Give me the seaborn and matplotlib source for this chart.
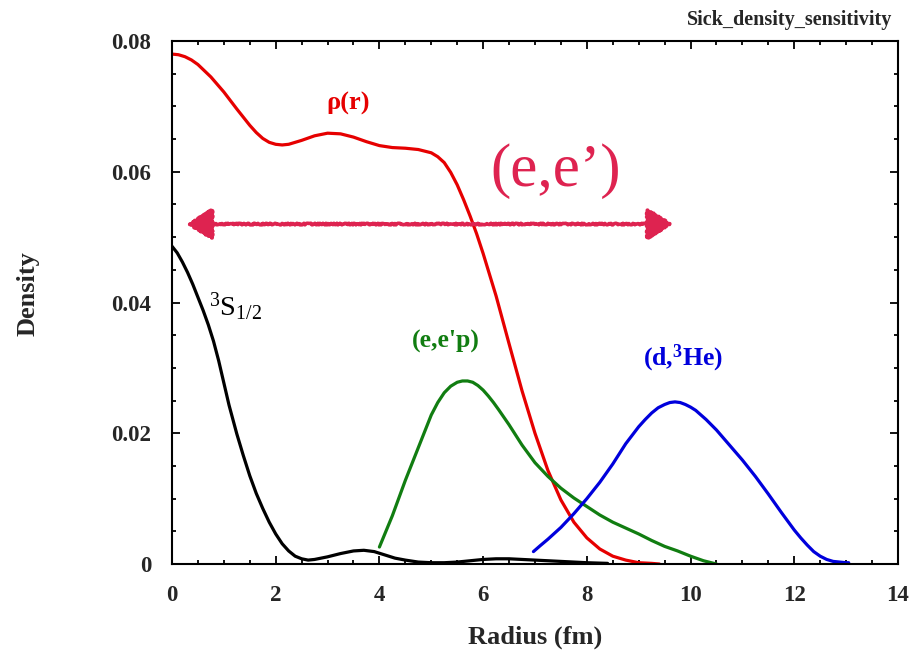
import matplotlib
matplotlib.use("Agg")
import matplotlib.pyplot as plt
import seaborn as sns
import pandas as pd

# Charge density rho(r) from elastic (e,e') scattering
r_rho = [0, 0.125, 0.25, 0.375, 0.5, 0.75, 1.0, 1.25, 1.5, 1.625, 1.75,
         1.875, 2.0, 2.125, 2.25, 2.5, 2.75, 3.0, 3.25, 3.5, 3.75, 4.0, 4.25,
         4.5, 4.75, 5.0, 5.125, 5.25, 5.375, 5.5, 5.625, 5.75, 5.875, 6.0,
         6.25, 6.5, 6.75, 7.0, 7.25, 7.5, 7.75, 8.0, 8.25, 8.5, 8.75, 9.0,
         9.25, 9.4]
rho = [0.0780, 0.0779, 0.0776, 0.0771, 0.0764, 0.0745, 0.0722, 0.0696,
       0.0671, 0.0660, 0.0651, 0.0645, 0.0642, 0.0641, 0.0642, 0.0648,
       0.0655, 0.0659, 0.0658, 0.0653, 0.0646, 0.0640, 0.0637, 0.0636,
       0.0634, 0.0629, 0.0623, 0.0614, 0.0599, 0.0580, 0.0557, 0.0532,
       0.0505, 0.0475, 0.0410, 0.0337, 0.0265, 0.0200, 0.0143, 0.0098,
       0.0064, 0.0040, 0.0023, 0.0012, 0.0006, 0.0002, 0.0001, 0.0000]

# 3s1/2 proton orbital density
r_s12 = [0, 0.1, 0.2, 0.3, 0.4, 0.5, 0.6, 0.7, 0.8, 0.9, 1.0, 1.1, 1.25,
         1.375, 1.5, 1.625, 1.75, 1.875, 2.0, 2.125, 2.25, 2.375, 2.5,
         2.625, 2.75, 3.0, 3.25, 3.5, 3.7, 3.9, 4.1, 4.3, 4.5, 4.75, 5.0,
         5.25, 5.5, 5.75, 6.0, 6.25, 6.5, 6.75, 7.0, 7.5, 8.0, 8.4]
s12 = [0.0486, 0.0476, 0.0462, 0.0446, 0.0428, 0.0408, 0.0388, 0.0366,
       0.0341, 0.0311, 0.0277, 0.0243, 0.0199, 0.0166, 0.0135, 0.0108,
       0.0085, 0.0064, 0.0046, 0.0031, 0.0020, 0.0012, 0.0008, 0.0006,
       0.0007, 0.0011, 0.0016, 0.0020, 0.0021, 0.0019, 0.0014, 0.0009,
       0.0006, 0.0003, 0.0002, 0.0002, 0.0003, 0.0005, 0.0007, 0.0008,
       0.0008, 0.0007, 0.0006, 0.0004, 0.0002, 0.0001]

# Radial sensitivity of (e,e'p)
r_eep = [4.0, 4.25, 4.5, 4.75, 5.0, 5.125, 5.25, 5.375, 5.5, 5.6, 5.7, 5.8,
         5.9, 6.0, 6.1, 6.2, 6.3, 6.5, 6.75, 7.0, 7.25, 7.5, 7.75, 8.0,
         8.25, 8.5, 8.75, 9.0, 9.25, 9.5, 9.75, 10.0, 10.25, 10.5]
eep = [0.0026, 0.0074, 0.0128, 0.0178, 0.0228, 0.0247, 0.0262, 0.0272,
       0.0278, 0.0280, 0.0280, 0.0278, 0.0273, 0.0266, 0.0257, 0.0247,
       0.0236, 0.0213, 0.0182, 0.0155, 0.0134, 0.0116, 0.0101, 0.0088,
       0.0075, 0.0064, 0.0055, 0.0046, 0.0036, 0.0027, 0.0020, 0.0012,
       0.0005, 0.0000]

# Radial sensitivity of (d,3He)
r_d3he = [6.97, 7.1, 7.25, 7.5, 7.75, 8.0, 8.25, 8.5, 8.75, 9.0, 9.125, 9.25,
          9.375, 9.5, 9.6, 9.7, 9.8, 9.9, 10.0, 10.1, 10.3, 10.5, 10.75,
          11.0, 11.25, 11.5, 11.75, 12.0, 12.125, 12.25, 12.375, 12.5,
          12.625, 12.75, 12.875, 13.0, 13.05]
d3he = [0.0019, 0.0028, 0.0038, 0.0056, 0.0077, 0.0100, 0.0125, 0.0153,
        0.0184, 0.0210, 0.0221, 0.0231, 0.0239, 0.0244, 0.0247, 0.0248,
        0.0247, 0.0244, 0.0240, 0.0235, 0.0221, 0.0205, 0.0182, 0.0159,
        0.0134, 0.0107, 0.0079, 0.0052, 0.0040, 0.0029, 0.0019, 0.0012,
        0.0007, 0.0004, 0.0003, 0.0002, 0.0002]

x_ticks = [0, 2, 4, 6, 8, 10, 12, 14]
x_tick_labels = ["0", "2", "4", "6", "8", "10", "12", "14"]
y_ticks = [0, 0.02, 0.04, 0.06, 0.08]
y_tick_labels = ["0", "0.02", "0.04", "0.06", "0.08"]

# extent of the (e,e') range arrow
arrow_span = [0.28, 9.66]
arrow_level = 0.052

RED = "#e60000"
GREEN = "#117d11"
BLUE = "#0000dc"
CRIMSON = "#de2350"

sns.set_theme(style="ticks")
plt.rcParams["font.family"] = ["Liberation Serif", "DejaVu Serif"]
plt.rcParams["mathtext.fontset"] = "custom"
plt.rcParams["mathtext.rm"] = "Liberation Serif"
plt.rcParams["mathtext.bf"] = "Liberation Serif:bold"
plt.rcParams["mathtext.it"] = "Liberation Serif:italic"

fig = plt.figure(figsize=(9.11, 6.55), dpi=100)
ax = fig.add_axes([0.1888, 0.1389, 0.7969, 0.7985])

curves = [
    (r_rho, rho, RED),
    (r_s12, s12, "black"),
    (r_eep, eep, GREEN),
    (r_d3he, d3he, BLUE),
]
for rr, dd, col in curves:
    df = pd.DataFrame({"r": rr, "density": dd})
    sns.lineplot(data=df, x="r", y="density", ax=ax, color=col, lw=2.3,
                 sort=False, estimator=None, solid_joinstyle="round",
                 solid_capstyle="round")

ax.set_xlim(0, 14)
ax.set_ylim(0, 0.08)
ax.set_xticks(x_ticks)
ax.set_xticklabels(x_tick_labels)
ax.set_yticks(y_ticks)
ax.set_yticklabels(y_tick_labels)
ax.set_xticks([v / 2 for v in range(29)], minor=True)
ax.set_yticks([v * 0.005 for v in range(17)], minor=True)

for lab in ax.get_xticklabels() + ax.get_yticklabels():
    lab.set_fontweight("bold")
    lab.set_fontsize(16.5)
ax.tick_params(which="both", direction="in", top=True, right=True,
               color="black", width=1.3)
ax.tick_params(which="major", length=5.5)
ax.tick_params(which="minor", length=3)
ax.tick_params(axis="x", which="major", pad=15)
ax.tick_params(axis="y", which="major", pad=15)
for sp in ax.spines.values():
    sp.set_visible(True)
    sp.set_linewidth(1.5)
    sp.set_color("black")

ax.set_xlabel("Radius (fm)", fontsize=19, fontweight="bold", va="center")
ax.xaxis.set_label_coords(0.5, -0.1396)
ax.set_ylabel("Density", fontsize=19, fontweight="bold", va="center")
ax.yaxis.set_label_coords(-0.198, 0.518)

# curve labels
ax.text(3.39, 0.0705, "ρ(r)", color=RED, fontsize=19, fontweight="bold",
        ha="center", va="center")
ax.text(1.23, 0.0393, r"$\mathrm{^{3}S_{1/2}}$", color="black", fontsize=20.5,
        ha="center", va="center")
ax.text(5.28, 0.0341, "(e,e'p)", color=GREEN, fontsize=18.5,
        fontweight="bold", ha="center", va="center")
ax.text(9.85, 0.0315, r"(d,$^{\mathbf{3}}$He)", color=BLUE, fontsize=18.5,
        fontweight="bold", ha="center", va="center")
ax.text(7.40, 0.0601, "(e,e\u2019)", color=CRIMSON, fontsize=44,
        ha="center", va="center")

arr = ax.annotate("", xy=(arrow_span[1], arrow_level),
                  xytext=(arrow_span[0], arrow_level),
                  arrowprops=dict(arrowstyle="<|-|>,head_length=16,head_width=10",
                                  mutation_scale=1, color=CRIMSON, lw=2.6,
                                  shrinkA=0, shrinkB=0))
arr.arrow_patch.set_sketch_params(scale=0.8, length=2, randomness=3)

fig.text(0.980, 0.969, "Sick_density_sensitivity", fontsize=14.5,
         fontweight="bold", ha="right", va="center")

fig.savefig("out.png", dpi=100)
